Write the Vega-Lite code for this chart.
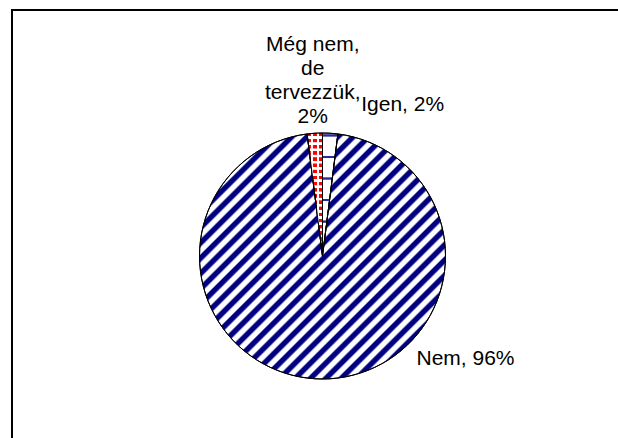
{
  "$schema": "https://vega.github.io/schema/vega-lite/v6.json",
  "autosize": {"type": "none"},
  "padding": {"left": 12, "top": 10, "right": 0, "bottom": 0},
  "width": 621,
  "height": 492,
  "background": "white",
  "config": {
    "view": {"stroke": null},
    "text": {"font": "Liberation Sans", "fontSize": 21, "color": "black"}
  },
  "data": {
    "values": [
      {"cat": "Igen", "pct": 2, "ord": 1, "label": "Igen, 2%"},
      {"cat": "Nem", "pct": 96, "ord": 2, "label": "Nem, 96%"},
      {"cat": "Még nem, de tervezzük", "pct": 2, "ord": 3, "label": "Még nem,\nde\ntervezzük,\n2%"}
    ]
  },
  "layer": [
    {
      "encoding": {
        "theta": {"field": "pct", "type": "quantitative", "stack": true},
        "order": {"field": "ord", "type": "quantitative"}
      },
      "layer": [
        {
          "mark": {"type": "arc", "outerRadius": 123, "stroke": "black", "strokeWidth": 1},
          "encoding": {
            "detail": {"field": "cat", "type": "nominal"},
            "fill": {
              "condition": [
                {
                  "test": "datum.cat === 'Nem'",
                  "value": {
                    "gradient": "linear", "x1": 0, "y1": 0, "x2": 1, "y2": 1,
                    "stops": [
                      {"offset": 0, "color": "#000080"}, {"offset": 0.011, "color": "#000080"}, {"offset": 0.016, "color": "#ffffff"}, {"offset": 0.027, "color": "#ffffff"},
                      {"offset": 0.03125, "color": "#000080"}, {"offset": 0.04225, "color": "#000080"}, {"offset": 0.04725, "color": "#ffffff"}, {"offset": 0.05825, "color": "#ffffff"},
                      {"offset": 0.0625, "color": "#000080"}, {"offset": 0.0735, "color": "#000080"}, {"offset": 0.0785, "color": "#ffffff"}, {"offset": 0.0895, "color": "#ffffff"},
                      {"offset": 0.09375, "color": "#000080"}, {"offset": 0.10475, "color": "#000080"}, {"offset": 0.10975, "color": "#ffffff"}, {"offset": 0.12075, "color": "#ffffff"},
                      {"offset": 0.125, "color": "#000080"}, {"offset": 0.136, "color": "#000080"}, {"offset": 0.141, "color": "#ffffff"}, {"offset": 0.152, "color": "#ffffff"},
                      {"offset": 0.15625, "color": "#000080"}, {"offset": 0.16725, "color": "#000080"}, {"offset": 0.17225, "color": "#ffffff"}, {"offset": 0.18325, "color": "#ffffff"},
                      {"offset": 0.1875, "color": "#000080"}, {"offset": 0.1985, "color": "#000080"}, {"offset": 0.2035, "color": "#ffffff"}, {"offset": 0.2145, "color": "#ffffff"},
                      {"offset": 0.21875, "color": "#000080"}, {"offset": 0.22975, "color": "#000080"}, {"offset": 0.23475, "color": "#ffffff"}, {"offset": 0.24575, "color": "#ffffff"},
                      {"offset": 0.25, "color": "#000080"}, {"offset": 0.261, "color": "#000080"}, {"offset": 0.266, "color": "#ffffff"}, {"offset": 0.277, "color": "#ffffff"},
                      {"offset": 0.28125, "color": "#000080"}, {"offset": 0.29225, "color": "#000080"}, {"offset": 0.29725, "color": "#ffffff"}, {"offset": 0.30825, "color": "#ffffff"},
                      {"offset": 0.3125, "color": "#000080"}, {"offset": 0.3235, "color": "#000080"}, {"offset": 0.3285, "color": "#ffffff"}, {"offset": 0.3395, "color": "#ffffff"},
                      {"offset": 0.34375, "color": "#000080"}, {"offset": 0.35475, "color": "#000080"}, {"offset": 0.35975, "color": "#ffffff"}, {"offset": 0.37075, "color": "#ffffff"},
                      {"offset": 0.375, "color": "#000080"}, {"offset": 0.386, "color": "#000080"}, {"offset": 0.391, "color": "#ffffff"}, {"offset": 0.402, "color": "#ffffff"},
                      {"offset": 0.40625, "color": "#000080"}, {"offset": 0.41725, "color": "#000080"}, {"offset": 0.42225, "color": "#ffffff"}, {"offset": 0.43325, "color": "#ffffff"},
                      {"offset": 0.4375, "color": "#000080"}, {"offset": 0.4485, "color": "#000080"}, {"offset": 0.4535, "color": "#ffffff"}, {"offset": 0.4645, "color": "#ffffff"},
                      {"offset": 0.46875, "color": "#000080"}, {"offset": 0.47975, "color": "#000080"}, {"offset": 0.48475, "color": "#ffffff"}, {"offset": 0.49575, "color": "#ffffff"},
                      {"offset": 0.5, "color": "#000080"}, {"offset": 0.511, "color": "#000080"}, {"offset": 0.516, "color": "#ffffff"}, {"offset": 0.527, "color": "#ffffff"},
                      {"offset": 0.53125, "color": "#000080"}, {"offset": 0.54225, "color": "#000080"}, {"offset": 0.54725, "color": "#ffffff"}, {"offset": 0.55825, "color": "#ffffff"},
                      {"offset": 0.5625, "color": "#000080"}, {"offset": 0.5735, "color": "#000080"}, {"offset": 0.5785, "color": "#ffffff"}, {"offset": 0.5895, "color": "#ffffff"},
                      {"offset": 0.59375, "color": "#000080"}, {"offset": 0.60475, "color": "#000080"}, {"offset": 0.60975, "color": "#ffffff"}, {"offset": 0.62075, "color": "#ffffff"},
                      {"offset": 0.625, "color": "#000080"}, {"offset": 0.636, "color": "#000080"}, {"offset": 0.641, "color": "#ffffff"}, {"offset": 0.652, "color": "#ffffff"},
                      {"offset": 0.65625, "color": "#000080"}, {"offset": 0.66725, "color": "#000080"}, {"offset": 0.67225, "color": "#ffffff"}, {"offset": 0.68325, "color": "#ffffff"},
                      {"offset": 0.6875, "color": "#000080"}, {"offset": 0.6985, "color": "#000080"}, {"offset": 0.7035, "color": "#ffffff"}, {"offset": 0.7145, "color": "#ffffff"},
                      {"offset": 0.71875, "color": "#000080"}, {"offset": 0.72975, "color": "#000080"}, {"offset": 0.73475, "color": "#ffffff"}, {"offset": 0.74575, "color": "#ffffff"},
                      {"offset": 0.75, "color": "#000080"}, {"offset": 0.761, "color": "#000080"}, {"offset": 0.766, "color": "#ffffff"}, {"offset": 0.777, "color": "#ffffff"},
                      {"offset": 0.78125, "color": "#000080"}, {"offset": 0.79225, "color": "#000080"}, {"offset": 0.79725, "color": "#ffffff"}, {"offset": 0.80825, "color": "#ffffff"},
                      {"offset": 0.8125, "color": "#000080"}, {"offset": 0.8235, "color": "#000080"}, {"offset": 0.8285, "color": "#ffffff"}, {"offset": 0.8395, "color": "#ffffff"},
                      {"offset": 0.84375, "color": "#000080"}, {"offset": 0.85475, "color": "#000080"}, {"offset": 0.85975, "color": "#ffffff"}, {"offset": 0.87075, "color": "#ffffff"},
                      {"offset": 0.875, "color": "#000080"}, {"offset": 0.886, "color": "#000080"}, {"offset": 0.891, "color": "#ffffff"}, {"offset": 0.902, "color": "#ffffff"},
                      {"offset": 0.90625, "color": "#000080"}, {"offset": 0.91725, "color": "#000080"}, {"offset": 0.92225, "color": "#ffffff"}, {"offset": 0.93325, "color": "#ffffff"},
                      {"offset": 0.9375, "color": "#000080"}, {"offset": 0.9485, "color": "#000080"}, {"offset": 0.9535, "color": "#ffffff"}, {"offset": 0.9645, "color": "#ffffff"},
                      {"offset": 0.96875, "color": "#000080"}, {"offset": 0.97975, "color": "#000080"}, {"offset": 0.98475, "color": "#ffffff"}, {"offset": 0.99575, "color": "#ffffff"},
                      {"offset": 1, "color": "#000080"}
                    ]
                  }
                },
                {
                  "test": "datum.cat === 'Igen'",
                  "value": {
                    "gradient": "linear", "x1": 0, "y1": 0, "x2": 0, "y2": 1,
                    "stops": [
                      {"offset": 0, "color": "#ffffff"},
                      {"offset": 0.009, "color": "#ffffff"}, {"offset": 0.013, "color": "#2a2a90"}, {"offset": 0.027, "color": "#2a2a90"}, {"offset": 0.031, "color": "#ffffff"},
                      {"offset": 0.184, "color": "#ffffff"}, {"offset": 0.188, "color": "#2a2a90"}, {"offset": 0.202, "color": "#2a2a90"}, {"offset": 0.206, "color": "#ffffff"},
                      {"offset": 0.359, "color": "#ffffff"}, {"offset": 0.363, "color": "#2a2a90"}, {"offset": 0.377, "color": "#2a2a90"}, {"offset": 0.381, "color": "#ffffff"},
                      {"offset": 0.534, "color": "#ffffff"}, {"offset": 0.538, "color": "#2a2a90"}, {"offset": 0.552, "color": "#2a2a90"}, {"offset": 0.556, "color": "#ffffff"},
                      {"offset": 0.709, "color": "#ffffff"}, {"offset": 0.713, "color": "#2a2a90"}, {"offset": 0.727, "color": "#2a2a90"}, {"offset": 0.731, "color": "#ffffff"},
                      {"offset": 1, "color": "#ffffff"}
                    ]
                  }
                }
              ],
              "value": {
                "gradient": "linear", "x1": 0, "y1": 0, "x2": 0, "y2": 1,
                "stops": [
                  {"offset": 0, "color": "#ff0000"}, {"offset": 0.024, "color": "#ff0000"}, {"offset": 0.028, "color": "#ffffff"}, {"offset": 0.046, "color": "#ffffff"},
                  {"offset": 0.05, "color": "#ff0000"}, {"offset": 0.074, "color": "#ff0000"}, {"offset": 0.078, "color": "#ffffff"}, {"offset": 0.096, "color": "#ffffff"},
                  {"offset": 0.1, "color": "#ff0000"}, {"offset": 0.124, "color": "#ff0000"}, {"offset": 0.128, "color": "#ffffff"}, {"offset": 0.146, "color": "#ffffff"},
                  {"offset": 0.15, "color": "#ff0000"}, {"offset": 0.174, "color": "#ff0000"}, {"offset": 0.178, "color": "#ffffff"}, {"offset": 0.196, "color": "#ffffff"},
                  {"offset": 0.2, "color": "#ff0000"}, {"offset": 0.224, "color": "#ff0000"}, {"offset": 0.228, "color": "#ffffff"}, {"offset": 0.246, "color": "#ffffff"},
                  {"offset": 0.25, "color": "#ff0000"}, {"offset": 0.274, "color": "#ff0000"}, {"offset": 0.278, "color": "#ffffff"}, {"offset": 0.296, "color": "#ffffff"},
                  {"offset": 0.3, "color": "#ff0000"}, {"offset": 0.324, "color": "#ff0000"}, {"offset": 0.328, "color": "#ffffff"}, {"offset": 0.346, "color": "#ffffff"},
                  {"offset": 0.35, "color": "#ff0000"}, {"offset": 0.374, "color": "#ff0000"}, {"offset": 0.378, "color": "#ffffff"}, {"offset": 0.396, "color": "#ffffff"},
                  {"offset": 0.4, "color": "#ff0000"}, {"offset": 0.424, "color": "#ff0000"}, {"offset": 0.428, "color": "#ffffff"}, {"offset": 0.446, "color": "#ffffff"},
                  {"offset": 0.45, "color": "#ff0000"}, {"offset": 0.474, "color": "#ff0000"}, {"offset": 0.478, "color": "#ffffff"}, {"offset": 0.496, "color": "#ffffff"},
                  {"offset": 0.5, "color": "#ff0000"}, {"offset": 0.524, "color": "#ff0000"}, {"offset": 0.528, "color": "#ffffff"}, {"offset": 0.546, "color": "#ffffff"},
                  {"offset": 0.55, "color": "#ff0000"}, {"offset": 0.574, "color": "#ff0000"}, {"offset": 0.578, "color": "#ffffff"}, {"offset": 0.596, "color": "#ffffff"},
                  {"offset": 0.6, "color": "#ff0000"}, {"offset": 0.624, "color": "#ff0000"}, {"offset": 0.628, "color": "#ffffff"}, {"offset": 0.646, "color": "#ffffff"},
                  {"offset": 0.65, "color": "#ff0000"}, {"offset": 0.674, "color": "#ff0000"}, {"offset": 0.678, "color": "#ffffff"}, {"offset": 0.696, "color": "#ffffff"},
                  {"offset": 0.7, "color": "#ff0000"}, {"offset": 0.724, "color": "#ff0000"}, {"offset": 0.728, "color": "#ffffff"}, {"offset": 0.746, "color": "#ffffff"},
                  {"offset": 0.75, "color": "#ff0000"}, {"offset": 0.774, "color": "#ff0000"}, {"offset": 0.778, "color": "#ffffff"}, {"offset": 0.796, "color": "#ffffff"},
                  {"offset": 0.8, "color": "#ff0000"}, {"offset": 0.824, "color": "#ff0000"}, {"offset": 0.828, "color": "#ffffff"}, {"offset": 0.846, "color": "#ffffff"},
                  {"offset": 0.85, "color": "#ff0000"}, {"offset": 0.874, "color": "#ff0000"}, {"offset": 0.878, "color": "#ffffff"}, {"offset": 0.896, "color": "#ffffff"},
                  {"offset": 0.9, "color": "#ff0000"}, {"offset": 0.924, "color": "#ff0000"}, {"offset": 0.928, "color": "#ffffff"}, {"offset": 0.946, "color": "#ffffff"},
                  {"offset": 0.95, "color": "#ff0000"}, {"offset": 0.974, "color": "#ff0000"}, {"offset": 0.978, "color": "#ffffff"}, {"offset": 1, "color": "#ffffff"}
                ]
              }
            }
          }
        },
        {
          "mark": {"type": "arc", "outerRadius": 123, "stroke": "black", "strokeWidth": 1},
          "encoding": {
            "detail": {"field": "cat", "type": "nominal"},
            "fill": {
              "condition": {
                "test": "datum.cat === 'Még nem, de tervezzük'",
                "value": {
                  "gradient": "linear", "x1": 0, "y1": 0, "x2": 1, "y2": 0,
                  "stops": [
                    {"offset": 0, "color": "rgba(255,255,255,0)"}, {"offset": 0.22, "color": "rgba(255,255,255,0)"},
                    {"offset": 0.25, "color": "#ffffff"}, {"offset": 0.35, "color": "#ffffff"},
                    {"offset": 0.38, "color": "rgba(255,255,255,0)"}, {"offset": 0.62, "color": "rgba(255,255,255,0)"},
                    {"offset": 0.65, "color": "#ffffff"}, {"offset": 0.75, "color": "#ffffff"},
                    {"offset": 0.78, "color": "rgba(255,255,255,0)"}, {"offset": 1, "color": "rgba(255,255,255,0)"}
                  ]
                }
              },
              "value": "transparent"
            }
          }
        },
        {
          "mark": {"type": "text", "radius": 123, "align": "left", "baseline": "alphabetic", "dx": 31, "dy": -22},
          "encoding": {
            "detail": {"field": "cat", "type": "nominal"},
            "text": {"condition": {"test": "datum.cat === 'Igen'", "field": "label", "type": "nominal"}, "value": ""}
          }
        },
        {
          "mark": {"type": "text", "radius": 123, "align": "left", "baseline": "alphabetic", "dx": 94, "dy": -14},
          "encoding": {
            "detail": {"field": "cat", "type": "nominal"},
            "text": {"condition": {"test": "datum.cat === 'Nem'", "field": "label", "type": "nominal"}, "value": ""}
          }
        },
        {
          "mark": {"type": "text", "radius": 123, "align": "center", "baseline": "alphabetic", "dx": -2, "dy": -82.5, "lineBreak": "\n", "lineHeight": 24},
          "encoding": {
            "detail": {"field": "cat", "type": "nominal"},
            "text": {"condition": {"test": "datum.cat === 'Még nem, de tervezzük'", "field": "label", "type": "nominal"}, "value": ""}
          }
        }
      ]
    },
    {
      "data": {"values": [{"frame": 1}]},
      "mark": {"type": "rect", "fill": "transparent", "stroke": "black", "strokeWidth": 2},
      "encoding": {
        "x": {"value": 0},
        "x2": {"value": "width"},
        "y": {"value": 0},
        "y2": {"value": "height"}
      }
    }
  ]
}
